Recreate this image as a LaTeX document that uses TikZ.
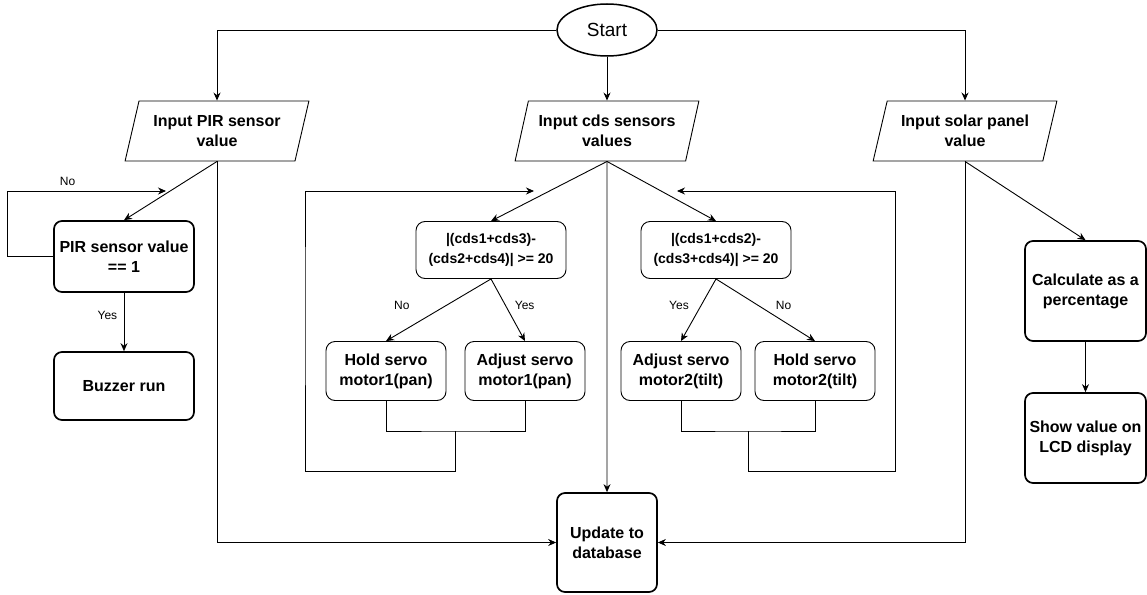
\documentclass[tikz,border=0pt]{standalone}
\usepackage{fontspec}
\setmainfont{Liberation Sans}
\usetikzlibrary{shapes.geometric,arrows.meta}

\begin{document}
\begin{tikzpicture}[x=1pt,y=-1pt]

\def\boxfont{\fontsize{16}{20}\selectfont\bfseries}

\tikzset{io/.style={trapezium, trapezium left angle=70, trapezium right angle=110,
    trapezium stretches=true, draw, line width=0.9pt, minimum width=184pt,
    minimum height=60pt, inner sep=0pt, align=center, font=\boxfont},
  bbox/.style={draw, line width=1.7pt, rounded corners=8pt, align=center,
    inner sep=1pt, font=\boxfont},
  sbox/.style={draw, line width=0.9pt, rounded corners=9pt, align=center,
    inner sep=1pt, minimum width=120pt, minimum height=59pt, font=\boxfont},
  cond/.style={sbox, minimum width=150pt, minimum height=57pt,
    font=\fontsize{14}{20}\selectfont\bfseries},
  lbl/.style={font=\fontsize{12}{14}\selectfont},
  arr/.style={line width=0.9pt, -{Stealth[length=8pt,width=7pt]}},
  line/.style={line width=0.9pt}}

\useasboundingbox (0,0) rectangle (1147,594);

\node[ellipse, draw, line width=1.5pt, minimum width=100pt, minimum height=52pt,
  font=\fontsize{19}{22}\selectfont] (start) at (607,30) {Start};

\foreach \x/\n/\t in {217/pir/{Input PIR sensor\\value},
                      607/cds/{Input cds sensors\\values},
                      965/sol/{Input solar panel\\value}}
{
\node[io] (\n) at (\x,131) {\t};
}

\node[bbox, minimum width=140pt, minimum height=71pt] (pirchk) at (124,256.5) {PIR sensor value\\== 1};
\node[bbox, minimum width=140pt, minimum height=68pt] (buzz) at (124,386) {Buzzer run};

\node[cond] (dec1) at (491,250) {|(cds1+cds3)-\\(cds2+cds4)| >= 20};
\node[cond] (dec2) at (716,250) {|(cds1+cds2)-\\(cds3+cds4)| >= 20};

\foreach \x/\n/\t in {386/hold1/{Hold servo\\motor1(pan)},
                      525/adj1/{Adjust servo\\motor1(pan)},
                      681/adj2/{Adjust servo\\motor2(tilt)},
                      815/hold2/{Hold servo\\motor2(tilt)}}
{
\node[sbox] (\n) at (\x,371) {\t};
}

\node[bbox, minimum width=100pt, minimum height=99pt] (upd) at (607,542.5) {Update to\\database};
\node[bbox, minimum width=121pt, minimum height=100pt] (calc) at (1085.5,291) {Calculate as a\\percentage};
\node[bbox, minimum width=121pt, minimum height=90pt] (show) at (1085.5,438) {Show value on\\LCD display};

\coordinate (pirin) at (166,191);
\coordinate (m1) at (455.5,431);
\coordinate (c1in) at (534,191);
\coordinate (m2) at (748,431);
\coordinate (c2in) at (677,191);

\draw[arr] (start.west) -| (pir.north);
\draw[arr] (start) -- (cds);
\draw[arr] (start.east) -| (sol.north);

\draw[arr] (pir.south) -- (pirchk.north);
\draw[arr] (pirchk.west) -- ++(-46,0) |- node[lbl, pos=.69, above=2pt] {No} (pirin);
\draw[arr] (pirchk) -- node[lbl, pos=.38, left=3pt] {Yes} (buzz);
\draw[arr] (pir.south) |- (upd.west);

\draw[arr] (cds.south) -- (upd.north);
\draw[arr] (cds.south) -- (dec1.north);
\draw[arr] (cds.south) -- (dec2.north);

\draw[arr] (dec1.south) -- node[lbl, pos=.43, xshift=-44pt] {No} (hold1.north);
\draw[arr] (dec1.south) -- node[lbl, pos=.43, xshift=19pt] {Yes} (adj1.north);
\draw[arr] (dec2.south) -- node[lbl, pos=.43, xshift=-22pt] {Yes} (adj2.north);
\draw[arr] (dec2.south) -- node[lbl, pos=.43, xshift=25pt] {No} (hold2.north);

\draw[line] (hold1.south) |- (m1) -| (adj1.south);
\draw[arr] (m1) -- ++(0,40) -| (305,301) |- (c1in);
\draw[line] (adj2.south) |- (m2) -| (hold2.south);
\draw[arr] (m2) -- ++(0,40) -| (895,301) |- (c2in);

\draw[arr] (sol.south) |- (upd.east);
\draw[arr] (sol.south) -- (calc.north);
\draw[arr] (calc) -- (show);

\end{tikzpicture}
\end{document}
